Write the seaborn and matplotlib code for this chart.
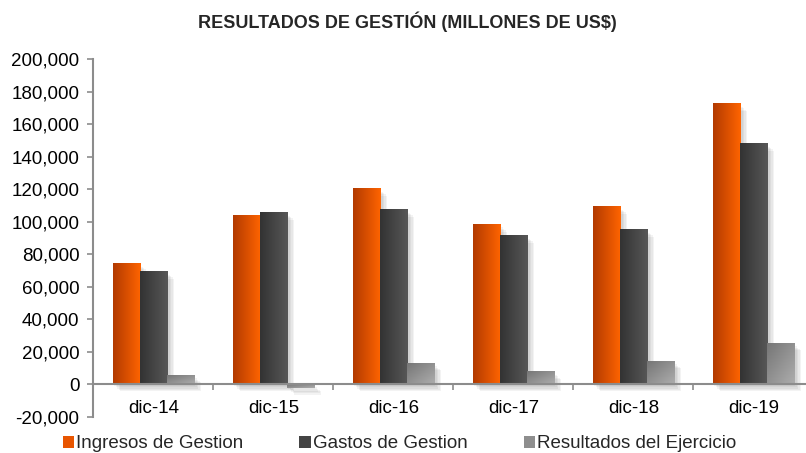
import numpy as np
import pandas as pd
import seaborn as sns
import matplotlib.pyplot as plt
import matplotlib.patheffects as pe
from matplotlib.colors import LinearSegmentedColormap
from matplotlib.ticker import FuncFormatter, FixedLocator

# ---- datos (millones de US$) ----
periodos = ['dic-14', 'dic-15', 'dic-16', 'dic-17', 'dic-18', 'dic-19']
series = ['Ingresos de Gestion', 'Gastos de Gestion', 'Resultados del Ejercicio']
ingresos = [74200, 103700, 120200, 98200, 109200, 172400]
gastos = [69300, 105500, 107400, 91400, 95100, 147900]
resultados = [5500, -2000, 12900, 7500, 14100, 25200]

df = pd.DataFrame({
    'periodo': periodos * 3,
    'serie': [s for s in series for _ in periodos],
    'valor': ingresos + gastos + resultados,
})

colores = {'Ingresos de Gestion': '#E85500',
           'Gastos de Gestion': '#444444',
           'Resultados del Ejercicio': '#8E8E8E'}
gradientes = {
    'Ingresos de Gestion': ('#B23A00', '#FF6400', 'h'),
    'Gastos de Gestion': ('#333333', '#575757', 'h'),
    'Resultados del Ejercicio': ('#767676', '#ADADAD', 'd'),
}

sns.set_style('white')
plt.rcParams['font.family'] = ['Liberation Sans', 'DejaVu Sans']

fig = plt.figure(figsize=(8.06, 4.53), dpi=100)
ax = fig.add_axes([0.116, 0.0795, 0.884, 0.790])

sns.barplot(data=df, x='periodo', y='valor', hue='serie', hue_order=series,
            palette=colores, width=0.675, saturation=1, ax=ax, legend=False,
            edgecolor='none', linewidth=0)

# sombra difusa (varias capas suaves)
sombra = [pe.SimplePatchShadow(offset=(d, -d), shadow_rgbFace='#555555', alpha=0.07)
          for d in (1.0, 2.0, 3.0, 4.0, 5.0)] + [pe.Normal()]
for serie, cont in zip(series, ax.containers):
    c0, c1, modo = gradientes[serie]
    cmap = LinearSegmentedColormap.from_list(serie, [c0, c1])
    if modo == 'h':
        grad = np.tile(np.linspace(0, 1, 64), (64, 1))
    else:
        xx, yy = np.meshgrid(np.linspace(0, 1, 64), np.linspace(1, 0, 64))
        grad = (xx + yy) / 2
    for bar in cont:
        bar.set_path_effects(sombra)
        x, y = bar.get_x(), bar.get_y()
        w, h = bar.get_width(), bar.get_height()
        ax.imshow(grad, extent=(x, x + w, min(y, y + h), max(y, y + h)), origin='lower',
                  cmap=cmap, aspect='auto', zorder=bar.get_zorder() + 0.1, interpolation='bilinear')

ax.set_xlim(-0.5, -0.5 + (806 - 93.5) / 120)
ax.set_ylim(-20000, 200000)
ax.set_yticks(np.arange(-20000, 200001, 20000))
ax.yaxis.set_major_formatter(FuncFormatter(lambda v, _: f'{int(v):,}'))
ax.xaxis.set_minor_locator(FixedLocator(np.arange(-0.5, 6, 1)))

for lado in ['top', 'right']:
    ax.spines[lado].set_visible(False)
ax.spines['bottom'].set_position(('data', 0))
for lado in ['left', 'bottom']:
    ax.spines[lado].set_color('#8c8c8c')
    ax.spines[lado].set_linewidth(1.5)
ax.spines['bottom'].set_zorder(5)

ax.tick_params(axis='y', which='major', left=True, length=4, width=1.2, color='#8c8c8c',
               labelsize=13.5, labelcolor='black', pad=6)
ax.tick_params(axis='x', which='major', bottom=False, length=0, labelsize=13.5,
               labelcolor='black', pad=11)
ax.tick_params(axis='x', which='minor', bottom=True, length=4, width=1.2, color='#8c8c8c')
ax.set_xlabel('')
ax.set_ylabel('')

fig.text(0.506, 0.951, 'RESULTADOS DE GESTIÓN (MILLONES DE US$)', ha='center', va='center',
         fontsize=13, fontweight='bold')

handles = [plt.Rectangle((0, 0), 1, 1, facecolor=colores[s], edgecolor='none') for s in series]
fig.legend(handles, series, loc='center left', bbox_to_anchor=(0.078, 0.02), ncol=3,
           frameon=False, fontsize=13.5, handlelength=0.6, handleheight=0.64,
           handletextpad=0.1, columnspacing=3.0, borderpad=0, borderaxespad=0)

fig.savefig('out.png', dpi=100)
